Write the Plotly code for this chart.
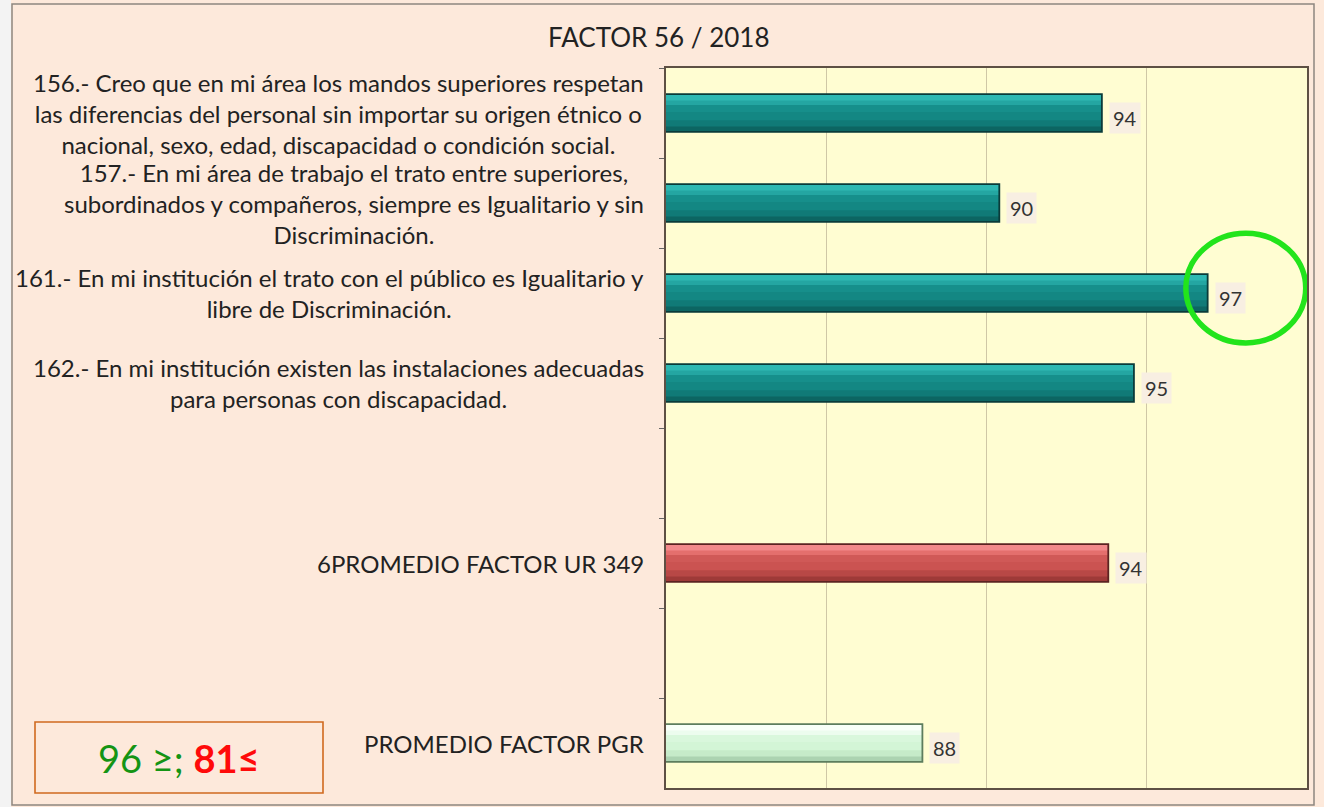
import plotly.graph_objects as go

# ---------------- data ----------------
title_text = "FACTOR 56 / 2018"
categories = [
    "156.- Creo que en mi área los mandos superiores respetan las diferencias del personal sin importar su origen étnico o nacional, sexo, edad, discapacidad o condición social.",
    "157.- En mi área de trabajo el trato entre superiores, subordinados y compañeros, siempre es Igualitario y sin Discriminación.",
    "161.- En mi institución el trato con el público es Igualitario y libre de Discriminación.",
    "162.- En mi institución existen las instalaciones adecuadas para personas con discapacidad.",
    "6PROMEDIO FACTOR UR 349",
    "PROMEDIO FACTOR PGR",
]
label_lines = [
    ["156.- Creo que en mi área los mandos superiores respetan",
     "las diferencias del personal sin importar su origen étnico o",
     "nacional, sexo, edad, discapacidad o condición social."],
    ["157.- En mi área de trabajo el trato entre superiores,",
     "subordinados y compañeros, siempre es Igualitario y sin",
     "Discriminación."],
    ["161.- En mi institución el trato con el público es Igualitario y",
     "libre de Discriminación."],
    ["162.- En mi institución existen las instalaciones adecuadas",
     "para personas con discapacidad."],
    ["6PROMEDIO FACTOR UR 349"],
    ["PROMEDIO FACTOR PGR"],
]
values = [93.6, 90.4, 96.9, 94.6, 93.8, 88.0]
groups = ["question", "question", "question", "question", "ur", "pgr"]
category_order = [categories[0], categories[1], categories[2], categories[3],
                  " ", categories[4], "  ", categories[5]]
highlighted = categories[2]
legend_parts = [("96 ≥; ", "#149414", 400), ("81≤", "#ff0a0a", 700)]

# ---------------- styles ----------------
W, H = 1324, 807
ML, MR, MT, MB = 666, 17, 68, 19
PW, PH = W - ML - MR, H - MT - MB

def px_x(px):
    return (px - ML) / PW

def px_y(py):
    return (H - MB - py) / PH

# shading bands (top -> bottom), colours per group
style = {
    "question": dict(bands=["#2fb8b3", "#24a6a2", "#168f8b", "#138783", "#107a77", "#0c6562"], edge="#0a3b3a"),
    "ur": dict(bands=["#f2898a", "#e46f6d", "#d05957", "#cb5351", "#b84846", "#9e3a38"], edge="#5c2322"),
    "pgr": dict(bands=["#f8fff8", "#ecfcee", "#d9f7dc", "#d3f5d6", "#c6ebc9", "#acd3b1"], edge="#5d7d5d"),
}
BW = 0.42
band_w = [0.07, 0.05, 0.08, 0.09, 0.07, 0.06]

fig = go.Figure()
off = -BW / 2
for bi, bw in enumerate(band_w):
    extra = 0.012 if bi < len(band_w) - 1 else 0.0
    fig.add_trace(go.Bar(y=categories, x=values, orientation="h", width=bw + extra, offset=off,
                         marker=dict(color=[style[g]["bands"][bi] for g in groups], line=dict(width=0)),
                         hoverinfo="x+y" if bi == 0 else "skip"))
    off += bw
fig.add_trace(go.Bar(y=categories, x=values, orientation="h", width=BW, offset=-BW / 2,
                     marker=dict(color="rgba(0,0,0,0)",
                                 line=dict(width=1.8, color=[style[g]["edge"] for g in groups])),
                     hoverinfo="skip"))

annotations = []
for c, v in zip(categories, values):
    annotations.append(dict(x=v, y=c, xref="x", yref="y", text=f"{v:.0f}",
                            showarrow=False, xanchor="left", yanchor="middle",
                            xshift=7, yshift=-5, bgcolor="#f8efe2", borderpad=3,
                            font=dict(family="Lato", size=20, color="#333333")))
for c, lines in zip(categories, label_lines):
    annotations.append(dict(x=px_x(646), y=c, xref="paper", yref="y",
                            text="<br>".join(lines), showarrow=False,
                            xanchor="right", yanchor="middle", align="center",
                            font=dict(family="Lato", size=24, color="#222222")))
annotations.append(dict(x=px_x(659), y=px_y(37), xref="paper", yref="paper",
                        text=title_text, showarrow=False, xanchor="center", yanchor="middle",
                        font=dict(family="Lato", size=26, color="#222222")))
annotations.append(dict(x=px_x(179), y=px_y(758), xref="paper", yref="paper",
                        text="".join(f"<span style='color:{col};font-weight:{wt}'>{t}</span>"
                                     for t, col, wt in legend_parts),
                        showarrow=False, xanchor="center", yanchor="middle",
                        font=dict(family="Lato", size=38)))

shapes = [
    dict(type="rect", xref="paper", yref="paper", x0=px_x(0), x1=px_x(11), y0=px_y(807), y1=px_y(0),
         fillcolor="#f3f3f3", line=dict(width=0), layer="below"),
    dict(type="rect", xref="paper", yref="paper", x0=px_x(12), x1=px_x(1314), y0=px_y(805), y1=px_y(4),
         line=dict(color="#8d8680", width=1.5)),
    dict(type="rect", xref="paper", yref="paper", x0=px_x(35), x1=px_x(323), y0=px_y(793), y1=px_y(722),
         line=dict(color="#d0691f", width=1.6)),
]
hi_idx = categories.index(highlighted)
hv = values[hi_idx]
slot = category_order.index(highlighted)
shapes.append(dict(type="circle", xref="x", yref="y",
                   x0=hv - 0.68, x1=hv + 3.06, y0=slot - 0.665, y1=slot + 0.555,
                   line=dict(color="#22e41c", width=5.5)))

fig.update_layout(
    width=W, height=H,
    margin=dict(l=ML, r=MR, t=MT, b=MB),
    paper_bgcolor="#fde9db",
    plot_bgcolor="#fffdd2",
    barmode="overlay",
    showlegend=False,
    annotations=annotations,
    shapes=shapes,
    xaxis=dict(range=[80, 100], tick0=80, dtick=5, showgrid=True, gridcolor="#cfc7a6",
               gridwidth=1, showticklabels=False, ticks="", zeroline=False,
               showline=True, mirror=True, linecolor="#5e5044", linewidth=2),
    yaxis=dict(type="category", categoryorder="array", categoryarray=category_order,
               range=[7.5, -0.5], showticklabels=False, showgrid=False, zeroline=False,
               ticks="outside", tickson="boundaries", ticklen=5, tickcolor="#666666",
               showline=True, mirror=True, linecolor="#5e5044", linewidth=2),
)

fig.write_html("out.html", include_plotlyjs=True, full_html=True,
               config={"displayModeBar": False},
               post_script="document.body.style.margin='0';document.body.style.overflow='hidden';")
